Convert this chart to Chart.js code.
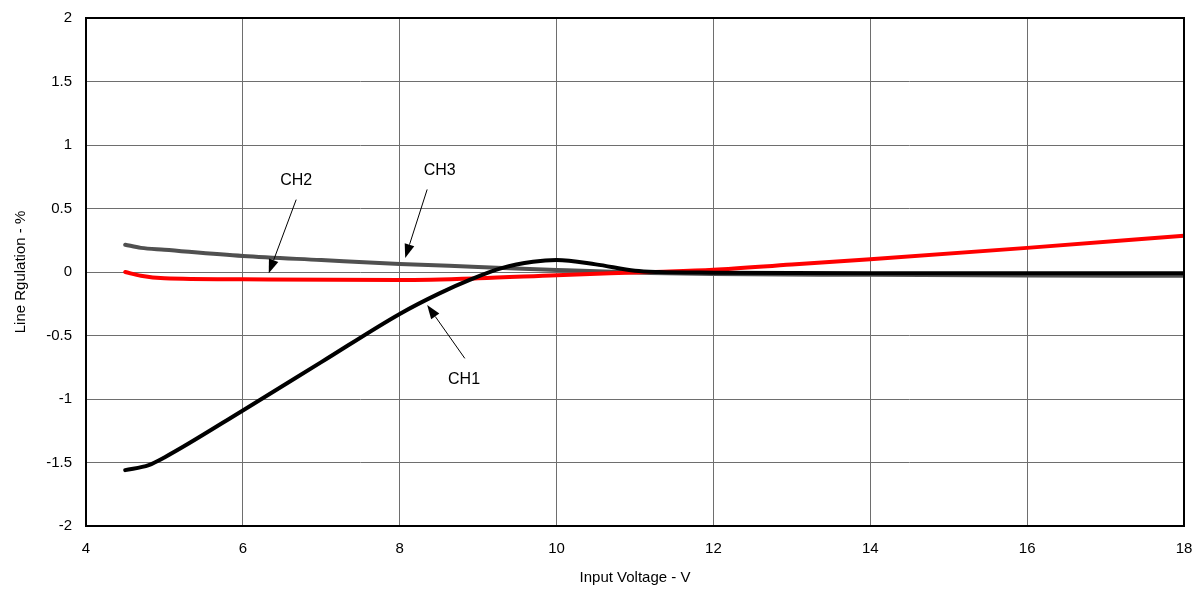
<!DOCTYPE html>
<html>
<head>
<meta charset="UTF-8">
<title>Line Regulation</title>
<style>
	html, body {margin: 0; padding: 0; background: #fff}
	#wrap {width: 1200px; height: 591px}
</style>
</head>
<body>
	<div id="wrap"><canvas id="myChart" width="1200" height="591"></canvas></div>
<script src="https://cdn.jsdelivr.net/npm/chart.js@4.4.0/dist/chart.umd.min.js"></script>
<script>
	// CH1 (black)
	var ch1X = [4.5, 4.8, 5.0, 6.0, 7.0, 8.0, 8.5, 8.9, 9.3, 9.7, 10.0, 10.5, 11.0, 11.3, 12, 14, 16, 18];
	var ch1Y = [-1.56, -1.52, -1.46, -1.09, -0.71, -0.33, -0.17, -0.06, 0.03, 0.08, 0.094, 0.06, 0.01, 0.0, -0.005, -0.01, -0.01, -0.01];
	// CH2 (red)
	var ch2X = [4.5, 4.7, 5.0, 6, 8, 9, 10, 11.2, 12, 13, 14, 16, 18];
	var ch2Y = [0, -0.03, -0.05, -0.058, -0.063, -0.05, -0.025, 0, 0.018, 0.06, 0.1, 0.19, 0.286];
	// CH3 (gray)
	var ch3X = [4.5, 4.7, 5.0, 6, 7, 8, 9, 10, 11.2, 12, 14, 16, 18];
	var ch3Y = [0.215, 0.19, 0.175, 0.126, 0.094, 0.063, 0.04, 0.016, -0.008, -0.016, -0.022, -0.027, -0.03];

	// 축 눈금
	var xTicks = [4, 6, 8, 10, 12, 14, 16, 18];
	var yTicks = [-2, -1.5, -1, -0.5, 0, 0.5, 1, 1.5, 2];

	// 라벨 + 화살표 (데이터 좌표)
	var labelNames = ['CH1', 'CH2', 'CH3'];
	var labelPos = [[8.82, -0.85], [6.68, 0.72], [8.51, 0.80]];
	var arrowFrom = [[8.83, -0.68], [6.68, 0.57], [8.35, 0.65]];
	var arrowTo = [[8.35, -0.26], [6.33, -0.01], [8.07, 0.11]];

	function toPoints(xs, ys) {
		return xs.map(function(x, i) { return {x: x, y: ys[i]}; });
	}

	var annotatePlugin = {
		id: 'annotate',
		afterDatasetsDraw: function(chart) {
			var ctx = chart.ctx, sx = chart.scales.x, sy = chart.scales.y;
			ctx.save();
			ctx.fillStyle = '#000';
			ctx.strokeStyle = '#000';
			ctx.font = '16px "Liberation Sans", Arial, sans-serif';
			ctx.textAlign = 'center';
			ctx.textBaseline = 'middle';
			for (var i = 0; i < labelNames.length; i++) {
				ctx.fillText(labelNames[i], sx.getPixelForValue(labelPos[i][0]), sy.getPixelForValue(labelPos[i][1]));
				var x1 = sx.getPixelForValue(arrowFrom[i][0]), y1 = sy.getPixelForValue(arrowFrom[i][1]);
				var x2 = sx.getPixelForValue(arrowTo[i][0]), y2 = sy.getPixelForValue(arrowTo[i][1]);
				var a = Math.atan2(y2 - y1, x2 - x1), len = 14, w = 5;
				var bx = x2 - len * Math.cos(a), by = y2 - len * Math.sin(a);
				ctx.lineWidth = 1;
				ctx.beginPath();
				ctx.moveTo(x1, y1);
				ctx.lineTo(bx, by);
				ctx.stroke();
				ctx.beginPath();
				ctx.moveTo(x2, y2);
				ctx.lineTo(bx + w * Math.sin(a), by - w * Math.cos(a));
				ctx.lineTo(bx - w * Math.sin(a), by + w * Math.cos(a));
				ctx.closePath();
				ctx.fill();
			}
			// 테두리
			var ca = chart.chartArea;
			ctx.lineWidth = 2;
			ctx.strokeRect(ca.left, ca.top, ca.right - ca.left, ca.bottom - ca.top);
			ctx.restore();
		}
	};

	var fontFam = '"Liberation Sans", Arial, sans-serif';
	var ctx = document.getElementById('myChart');
	var chart = new Chart(ctx, {
		type: 'line',
		data: {
			datasets: [
				{label: 'CH1', data: toPoints(ch1X, ch1Y), borderColor: '#000000', borderWidth: 4},
				{label: 'CH2', data: toPoints(ch2X, ch2Y), borderColor: '#ff0000', borderWidth: 4},
				{label: 'CH3', data: toPoints(ch3X, ch3Y), borderColor: '#505050', borderWidth: 4}
			]
		},
		options: {
			responsive: false,
			animation: false,
			devicePixelRatio: 1,
			elements: {point: {radius: 0}, line: {cubicInterpolationMode: 'monotone', borderCapStyle: 'round'}},
			layout: {padding: {top: 18, right: 16, left: 10, bottom: 0}},
			plugins: {legend: {display: false}, tooltip: {enabled: false}},
			scales: {
				x: {
					type: 'linear', min: 4, max: 18,
					afterBuildTicks: function(s) { s.ticks = xTicks.map(function(v) { return {value: v}; }); },
					afterFit: function(s) { s.height = 65; s.paddingLeft = 0; s.paddingRight = 0; },
					grid: {color: '#6e6e6e', lineWidth: 1, drawTicks: false},
					border: {display: false},
					ticks: {color: '#000', font: {family: fontFam, size: 15}, padding: 14, maxRotation: 0,
						callback: function(v) { return String(v); }},
					title: {display: true, text: 'Input Voltage - V', color: '#000', font: {family: fontFam, size: 15}, padding: {top: 2}}
				},
				y: {
					type: 'linear', min: -2, max: 2,
					afterBuildTicks: function(s) { s.ticks = yTicks.map(function(v) { return {value: v}; }); },
					afterFit: function(s) { s.width = 76; s.paddingTop = 0; s.paddingBottom = 0; },
					grid: {color: '#6e6e6e', lineWidth: 1, drawTicks: false},
					border: {display: false},
					ticks: {color: '#000', font: {family: fontFam, size: 15}, padding: 14,
						callback: function(v) { return String(v); }},
					title: {display: true, text: 'Line Rgulation - %', color: '#000', font: {family: fontFam, size: 15}, padding: 2}
				}
			}
		},
		plugins: [annotatePlugin]
	});
</script>
</body>
</html>
